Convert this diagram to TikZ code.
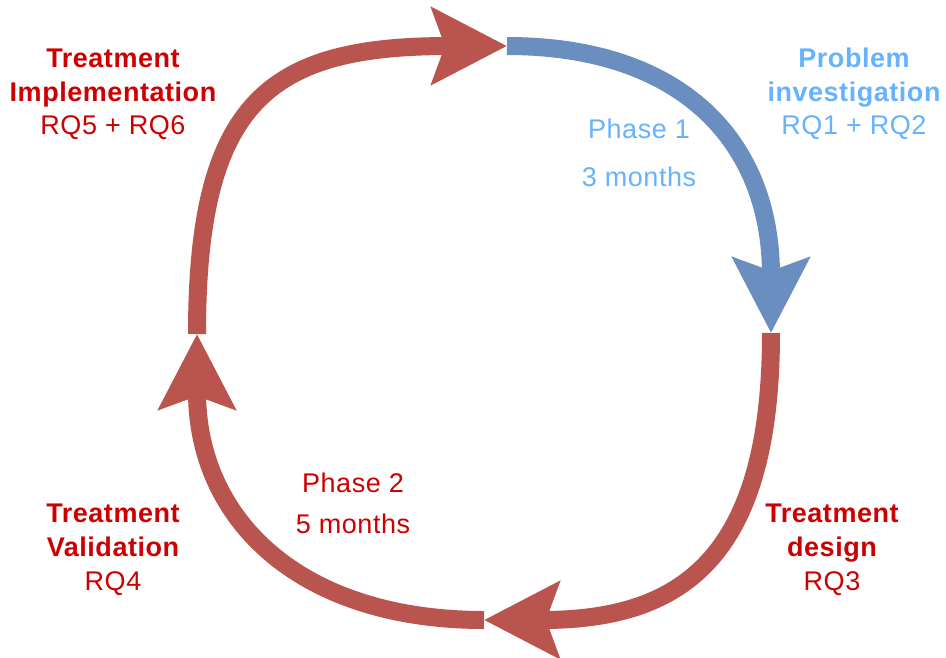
\documentclass[tikz,border=0pt]{standalone}
\usepackage{fontspec}
\setmainfont[LetterSpace=2]{Liberation Sans}
\usetikzlibrary{arrows.meta}
\definecolor{loopred}{RGB}{185,84,79}
\definecolor{loopblue}{RGB}{107,142,192}
\definecolor{labelred}{RGB}{204,0,0}
\definecolor{labelblue}{RGB}{102,178,255}
\begin{document}
\begin{tikzpicture}[x=1pt,y=-1pt,
  cyclearrow/.style={line width=18pt,
    -{Stealth[length=75pt,width=76pt,inset=13pt]}},
  lbl/.style={anchor=base, inner sep=0pt, font=\fontsize{27}{34}\selectfont},
  bold/.style={lbl, font=\fontsize{27}{34}\selectfont\bfseries}]
\useasboundingbox (0,0) rectangle (946,657);

% the four turning points of the cycle
\coordinate (north) at (507,46);
\coordinate (east)  at (771,333);
\coordinate (south) at (484,620);
\coordinate (west)  at (197,334);

% phase 1: problem investigation
\draw[cyclearrow, loopblue] (north) .. controls (680,46) and (771,140) .. (east);
% phase 2: design, validation, implementation
\draw[cyclearrow, loopred] (east) .. controls (771,560) and (680,620) .. (south);
\draw[cyclearrow, loopred] (south) .. controls (300,620) and (197,520) .. (west);
\draw[cyclearrow, loopred] (west) .. controls (197,100) and (270,46) .. (north);

% stage labels
\node[bold, labelred] (impl1) at (113,67) {Treatment};
\node[bold, labelred] (impl2) at (113,101) {Implementation};
\node[lbl, labelred]  (impl3) at (113,134) {RQ5 + RQ6};

\node[bold, labelblue] (prob1) at (854,67) {Problem};
\node[bold, labelblue] (prob2) at (854,101) {investigation};
\node[lbl, labelblue]  (prob3) at (854,134) {RQ1 + RQ2};

\node[bold, labelred] (val1) at (113,522) {Treatment};
\node[bold, labelred] (val2) at (113,556) {Validation};
\node[lbl, labelred]  (val3) at (113,590) {RQ4};

\node[bold, labelred] (des1) at (832,522) {Treatment};
\node[bold, labelred] (des2) at (832,556) {design};
\node[lbl, labelred]  (des3) at (832,590) {RQ3};

% phase durations
\node[lbl, labelblue] (ph1a) at (639,138) {Phase 1};
\node[lbl, labelblue] (ph1b) at (639,186) {3 months};
\node[lbl, labelred]  (ph2a) at (353,492) {Phase 2};
\node[lbl, labelred]  (ph2b) at (353,533) {5 months};
\end{tikzpicture}
\end{document}
